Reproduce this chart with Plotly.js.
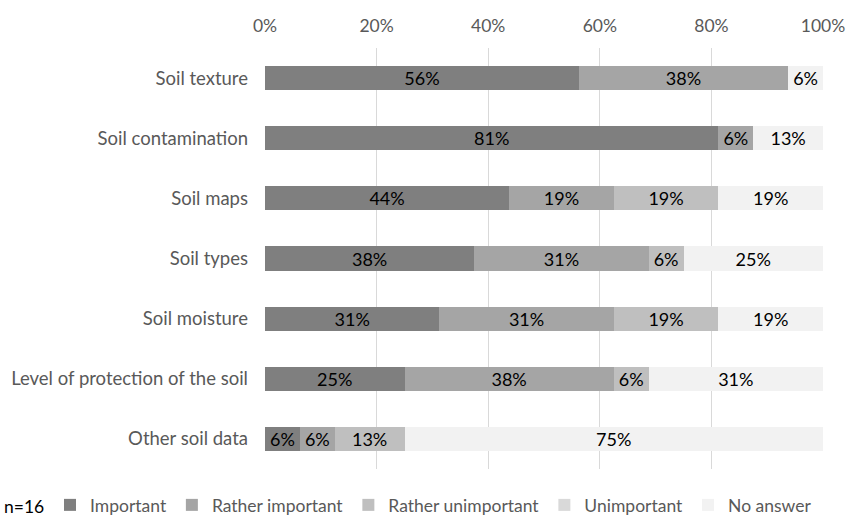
<!DOCTYPE html>
<html>
<head>
<meta charset="utf-8">
<script src="https://cdn.plot.ly/plotly-3.0.1.min.js"></script>
<style>html,body{margin:0;padding:0;background:#fff;}#chart{width:846px;height:519px;}</style>
</head>
<body>
<div id="chart"></div>
<script>
const categories = ["Soil texture","Soil contamination","Soil maps","Soil types","Soil moisture","Level of protection of the soil","Other soil data"];
const seriesNames = ["Important","Rather important","Rather unimportant","Unimportant","No answer"];
const important = [56.25, 81.25, 43.75, 37.5, 31.25, 25, 6.25];
const ratherImportant = [37.5, 6.25, 18.75, 31.25, 31.25, 37.5, 6.25];
const ratherUnimportant = [0, 0, 18.75, 6.25, 18.75, 6.25, 12.5];
const unimportant = [0, 0, 0, 0, 0, 0, 0];
const noAnswer = [6.25, 12.5, 18.75, 25, 18.75, 31.25, 75];
const xTickVals = [0, 20, 40, 60, 80, 100];
const xTickText = ["0%","20%","40%","60%","80%","100%"];
const sampleNote = "n=16";
const colors = ["#7f7f7f","#a5a5a5","#bfbfbf","#d9d9d9","#f2f2f2"];
const FONT = "Lato, 'Open Sans', sans-serif";

const allSeries = [important, ratherImportant, ratherUnimportant, unimportant, noAnswer];
const traces = allSeries.map((vals, i) => ({
  type: "bar",
  orientation: "h",
  name: seriesNames[i],
  y: categories,
  x: vals,
  marker: {color: colors[i], line: {width: 0}},
  text: vals.map(v => v > 0 ? Math.round(v) + "%" : ""),
  textposition: "inside",
  insidetextanchor: "middle",
  constraintext: "none",
  textfont: {family: FONT, size: 18, color: "#000000"},
  hoverinfo: "skip"
}));

const PW = 846 - 265 - 23, PH = 519 - 48 - 50;
const layout = {
  width: 846, height: 519,
  barmode: "stack",
  bargap: 0.6,
  paper_bgcolor: "#ffffff",
  plot_bgcolor: "#ffffff",
  margin: {l: 265, r: 23, t: 48, b: 50, autoexpand: false},
  font: {family: FONT, size: 18, color: "#595959"},
  showlegend: true,
  xaxis: {
    side: "top",
    range: [0, 100],
    tickvals: xTickVals,
    ticktext: xTickText,
    showgrid: true,
    gridcolor: "#d9d9d9",
    gridwidth: 1,
    zeroline: false,
    showline: false,
    ticks: "",
    ticklabelstandoff: 12,
    tickfont: {family: FONT, size: 17.5, color: "#595959"},
    fixedrange: true
  },
  yaxis: {
    categoryorder: "array",
    categoryarray: categories,
    autorange: "reversed",
    showgrid: false,
    zeroline: false,
    showline: false,
    ticks: "",
    ticklabelstandoff: 16,
    tickfont: {family: FONT, size: 18.5, color: "#595959"},
    fixedrange: true
  },
  legend: {
    orientation: "h",
    x: (50 - 265) / PW, y: -(505 - 469) / PH,
    xanchor: "left", yanchor: "middle",
    font: {family: FONT, size: 17.5, color: "#595959"},
    itemwidth: 30,
    traceorder: "normal",
    bgcolor: "rgba(0,0,0,0)"
  },
  annotations: [{
    text: sampleNote,
    xref: "paper", yref: "paper",
    x: -263 / PW, y: -(506 - 469) / PH, xanchor: "left", yanchor: "middle",
    showarrow: false,
    font: {family: FONT, size: 17.5, color: "#000000"}
  }]
};
Plotly.newPlot("chart", traces, layout, {displayModeBar: false, staticPlot: true});
</script>
</body>
</html>
